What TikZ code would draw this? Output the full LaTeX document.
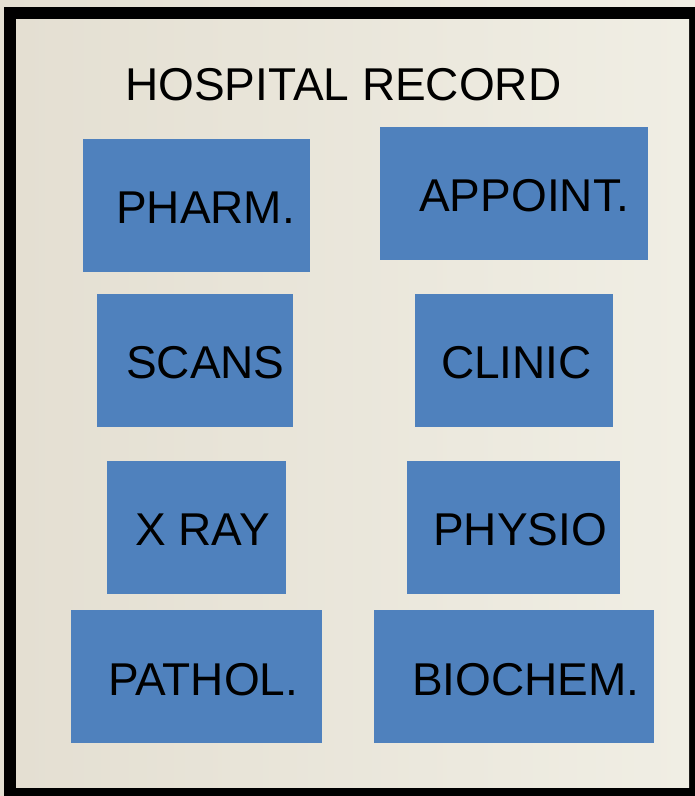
\documentclass[tikz,border=0pt]{standalone}
\usepackage{fontspec}
\setmainfont{Liberation Sans}
\definecolor{boxblue}{HTML}{4F81BD}
\definecolor{paperL}{HTML}{E4DFD2}
\definecolor{paperR}{HTML}{F0EEE4}
\begin{document}
\begin{tikzpicture}[x=1pt,y=-1pt,
  boxnode/.style={fill=boxblue, draw=none, inner sep=0pt, anchor=north west},
  lbl/.style={anchor=base west, inner sep=0pt, font=\fontsize{46}{50}\selectfont, text=black}]
\useasboundingbox (0,0) rectangle (695,796);
\shade[left color=paperL, right color=paperR] (0,0) rectangle (695,796);
% frame
\fill[black] (4,7) rectangle (695,796);
\shade[left color=paperL, right color=paperR] (16,19) rectangle (689,787);
% title
\node[lbl] (title) at (125,100) {HOSPITAL RECORD};
% boxes
\node[boxnode, minimum width=227pt, minimum height=133pt] (pharm) at (83,139) {};
\node[boxnode, minimum width=268pt, minimum height=133pt] (appoint) at (380,127) {};
\node[boxnode, minimum width=196pt, minimum height=133pt] (scans) at (97,294) {};
\node[boxnode, minimum width=198pt, minimum height=133pt] (clinic) at (415,294) {};
\node[boxnode, minimum width=179pt, minimum height=133pt] (xray) at (107,461) {};
\node[boxnode, minimum width=213pt, minimum height=133pt] (physio) at (407,461) {};
\node[boxnode, minimum width=251pt, minimum height=133pt] (pathol) at (71,610) {};
\node[boxnode, minimum width=280pt, minimum height=133pt] (biochem) at (374,610) {};
% labels
\node[lbl] (pharmt) at (116,223) {PHARM.};
\node[lbl] (appointt) at (419,211) {APPOINT.};
\node[lbl] (scanst) at (126,378) {SCANS};
\node[lbl] (clinict) at (441,378) {CLINIC};
\node[lbl] (xrayt) at (135,545) {X RAY};
\node[lbl] (physiot) at (433,545) {PHYSIO};
\node[lbl] (patholt) at (108,695) {PATHOL.};
\node[lbl] (biochemt) at (412,695) {BIOCHEM.};
\end{tikzpicture}
\end{document}
